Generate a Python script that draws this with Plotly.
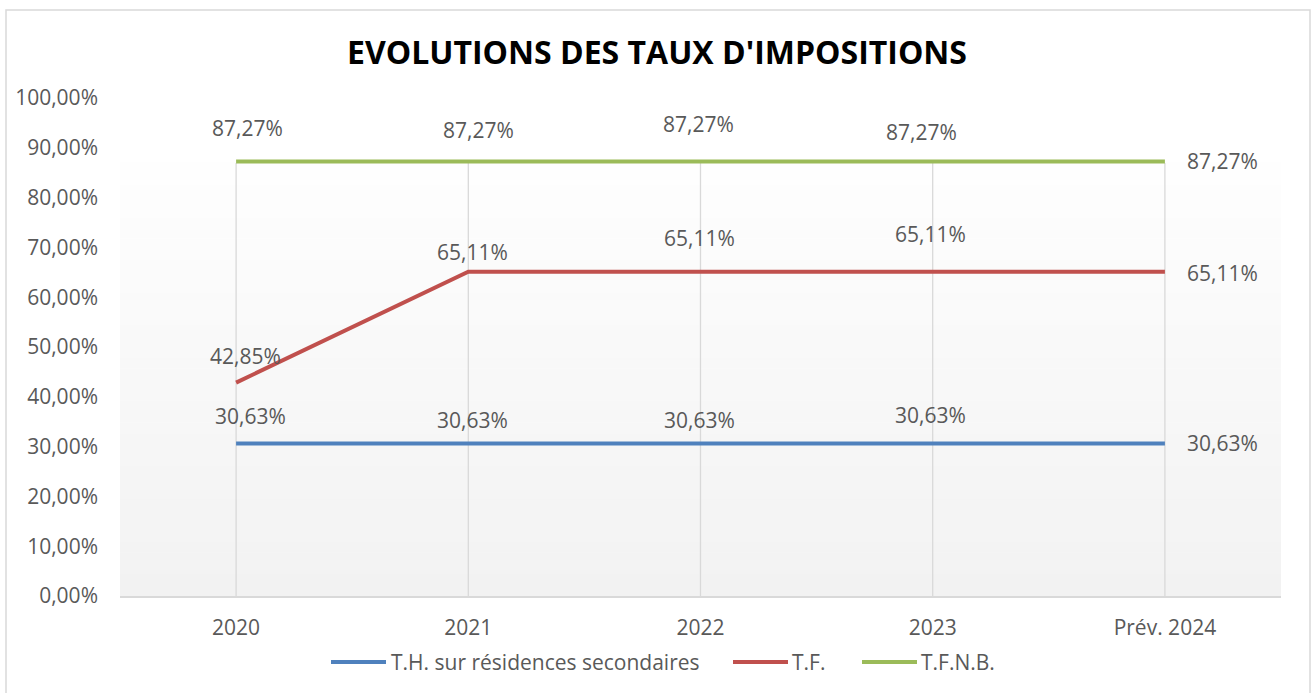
import plotly.graph_objects as go

categories = ["2020", "2021", "2022", "2023", "Prév. 2024"]
th_values = [30.63, 30.63, 30.63, 30.63, 30.63]
tf_values = [42.85, 65.11, 65.11, 65.11, 65.11]
tfnb_values = [87.27, 87.27, 87.27, 87.27, 87.27]
series_names = ["T.H. sur résidences secondaires", "T.F.", "T.F.N.B."]
y_ticks = [0, 10, 20, 30, 40, 50, 60, 70, 80, 90, 100]
title_text = "EVOLUTIONS DES TAUX D'IMPOSITIONS"

colors = ["#4F81BD", "#C0504D", "#9BBB59"]
# label offsets (px) per series per point (style only)
label_offsets = [
    [(14, -27), (4, -23), (-1, -23), (-2, -28), (58, 0)],
    [(9, -27), (4, -20), (-1, -34), (-2, -38), (58, 1)],
    [(11, -33), (10, -31), (-2, -37), (-11, -29), (58, 0)],
]
# custom legend layout: (line start px, line end px, text start px)
legend_pos = [(331, 386, 389), (733, 788, 790), (862, 917, 919)]
legend_y_px = 662

FONT = "Open Sans"
TXT = "#595959"
FS = 21
W, H = 1311, 693
L, R, T, B = 120, 30, 98, 97
plot_w = W - L - R
plot_h = H - T - B
bg_top_px = 163
bg_top = (H - B - bg_top_px) / plot_h


def px_x(p):
    return (p - L) / plot_w


def px_y(p):
    return (H - B - p) / plot_h


fig = go.Figure()
all_series = [th_values, tf_values, tfnb_values]
for name, vals, col in zip(series_names, all_series, colors):
    fig.add_trace(go.Scatter(
        x=categories, y=vals, mode="lines", name=name,
        line=dict(color=col, width=4), hoverinfo="skip", showlegend=False))

# gradient background
n = 40
for i in range(n):
    y0 = bg_top * i / n
    y1 = bg_top * (i + 1) / n
    t = i / (n - 1)
    g = round(242 + (254 - 242) * t)
    fig.add_shape(type="rect", xref="x domain", yref="paper",
                  x0=0, x1=1, y0=y0, y1=y1 + 0.001,
                  fillcolor=f"rgb({g},{g},{g})", line=dict(width=0), layer="below")

# vertical gridlines
for i, c in enumerate(categories):
    fig.add_shape(type="line", xref="x", yref="paper", x0=i, x1=i, y0=0, y1=bg_top,
                  line=dict(color="#D9D9D9", width=1.3), layer="below")

# data labels
for vals, offs in zip(all_series, label_offsets):
    for i, (v, (dx, dy)) in enumerate(zip(vals, offs)):
        fig.add_annotation(x=i, y=v, xref="x", yref="y",
                           text=f"{v:.2f}".replace(".", ",") + "%",
                           showarrow=False, xshift=dx, yshift=-dy,
                           font=dict(family=FONT, size=FS, color=TXT))

# custom legend
for name, col, (l0, l1, tx) in zip(series_names, colors, legend_pos):
    fig.add_shape(type="line", xref="paper", yref="paper",
                  x0=px_x(l0), x1=px_x(l1), y0=px_y(legend_y_px), y1=px_y(legend_y_px),
                  line=dict(color=col, width=4))
    fig.add_annotation(x=px_x(tx), y=px_y(legend_y_px), xref="paper", yref="paper",
                       text=name, showarrow=False, xanchor="left", yanchor="middle",
                       font=dict(family=FONT, size=FS, color=TXT))

# outer border
fig.add_shape(type="rect", xref="paper", yref="paper",
              x0=px_x(6), x1=px_x(1310), y0=px_y(705), y1=px_y(10),
              line=dict(color="#D9D9D9", width=1.5), fillcolor="rgba(0,0,0,0)")

ytick_text = [f"{v:.2f}".replace(".", ",") + "%" for v in y_ticks]

fig.update_layout(
    width=W, height=H,
    margin=dict(l=L, r=R, t=T, b=B, autoexpand=False),
    paper_bgcolor="white", plot_bgcolor="rgba(0,0,0,0)",
    title=dict(text=f"<b>{title_text}</b>", x=657 / W, xanchor="center",
               y=1 - 53 / H, yanchor="middle", yref="container", xref="container",
               font=dict(family=FONT, size=32, color="#000000")),
    showlegend=False,
    xaxis=dict(type="category", range=[-0.5, 4.5], showgrid=False, automargin=False,
               showline=True, linecolor="#D9D9D9", linewidth=1.5,
               ticks="", ticklabelstandoff=12,
               tickfont=dict(family=FONT, size=FS, color=TXT), fixedrange=True),
    yaxis=dict(range=[0, 100], tickvals=y_ticks, ticktext=ytick_text, automargin=False,
               showgrid=False, zeroline=False, showline=False, ticks="",
               ticklabelstandoff=21,
               tickfont=dict(family=FONT, size=FS, color=TXT), fixedrange=True),
)

fig.write_html("out.html", config={"displayModeBar": False},
               post_script="document.body.style.margin='0';")
